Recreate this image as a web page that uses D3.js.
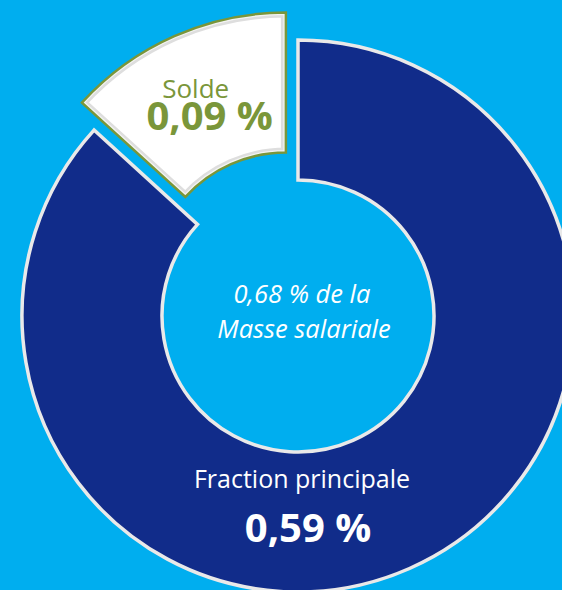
<!DOCTYPE html>
<html>
<head>
<meta charset="utf-8">
<script src="https://cdn.jsdelivr.net/npm/d3@7"></script>
<style>
  html, body { margin: 0; padding: 0; background: #00AEEF; }
  svg { display: block; font-family: "Open Sans", "Noto Sans", sans-serif; }
</style>
</head>
<body>
<div id="chart"></div>
<script>
// data
const categories = ["Fraction principale", "Solde"];
const values = [0.59, 0.09];
const valueLabels = ["0,59 %", "0,09 %"];
const centerLines = ["0,68 % de la", "Masse salariale"];

const width = 562, height = 590;
const cx = 298, cy = 316;
const outerR = 276, innerR = 136;
const explode = 30;

const svg = d3.select("#chart").append("svg")
    .attr("width", width)
    .attr("height", height);

svg.append("rect")
    .attr("width", width)
    .attr("height", height)
    .attr("fill", "#00AEEF");

const g = svg.append("g")
    .attr("transform", `translate(${cx},${cy})`);

const pie = d3.pie().sort(null).value(d => d.value);
const arcs = pie(categories.map((c, i) => ({name: c, value: values[i], label: valueLabels[i]})));

const arc = d3.arc().innerRadius(innerR).outerRadius(outerR);

// offset of each slice (only the small one is pulled out)
function shift(d, i) {
    if (i === 0) return [0, 0];
    const a = (d.startAngle + d.endAngle) / 2;
    return [Math.sin(a) * explode, -Math.cos(a) * explode];
}

// main slice
const main = arcs[0];
g.append("path")
    .attr("d", arc(main))
    .attr("fill", "#112C8A")
    .attr("stroke", "#E9E9E9")
    .attr("stroke-width", 3.5)
    .attr("stroke-linejoin", "miter");

// small exploded slice, with a soft grey inner edge
const small = arcs[1];
const off = shift(small, 1);
const sg = g.append("g").attr("transform", `translate(${off[0]},${off[1]})`);

svg.append("defs").append("clipPath")
    .attr("id", "soldeClip")
    .append("path")
    .attr("d", arc(small));

sg.append("path")
    .attr("d", arc(small))
    .attr("fill", "#FFFFFF");
sg.append("path")
    .attr("d", arc(small))
    .attr("fill", "none")
    .attr("stroke", "#DEDEDE")
    .attr("stroke-width", 10)
    .attr("clip-path", "url(#soldeClip)");
sg.append("path")
    .attr("d", arc(small))
    .attr("fill", "none")
    .attr("stroke", "#F4F4F4")
    .attr("stroke-width", 5)
    .attr("clip-path", "url(#soldeClip)");
sg.append("path")
    .attr("d", arc(small))
    .attr("fill", "none")
    .attr("stroke", "#7A963A")
    .attr("stroke-width", 2.5);

// Solde labels
const sc = arc.centroid(small);
sg.append("text")
    .attr("x", sc[0] - 7)
    .attr("y", sc[1] - 2)
    .attr("text-anchor", "middle")
    .attr("fill", "#7A963A")
    .attr("font-size", 26)
    .text(categories[1]);
sg.append("text")
    .attr("x", sc[0] + 7)
    .attr("y", sc[1] + 30)
    .attr("text-anchor", "middle")
    .attr("fill", "#7A963A")
    .attr("font-size", 40)
    .attr("font-weight", "bold")
    .text(small.data.label);

// main slice labels (bottom of the ring)
g.append("text")
    .attr("x", 4)
    .attr("y", 172)
    .attr("text-anchor", "middle")
    .attr("fill", "#FFFFFF")
    .attr("font-size", 25)
    .text(categories[0]);
g.append("text")
    .attr("x", 10)
    .attr("y", 226)
    .attr("text-anchor", "middle")
    .attr("fill", "#FFFFFF")
    .attr("font-size", 40)
    .attr("font-weight", "bold")
    .text(main.data.label);

// centre text
g.selectAll(".center-line")
    .data(centerLines)
    .join("text")
    .attr("class", "center-line")
    .attr("x", (d, i) => i === 0 ? 4 : 6)
    .attr("y", (d, i) => -13 + i * 35)
    .attr("text-anchor", "middle")
    .attr("fill", "#FFFFFF")
    .attr("font-size", 25.5)
    .attr("font-style", "italic")
    .text(d => d);
</script>
</body>
</html>
